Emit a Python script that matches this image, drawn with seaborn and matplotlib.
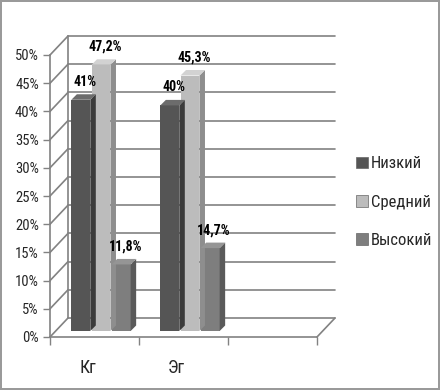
import numpy as np
import pandas as pd
import matplotlib
matplotlib.use("Agg")
import matplotlib.pyplot as plt
import seaborn as sns
from matplotlib.transforms import ScaledTranslation, IdentityTransform
from matplotlib.patches import Polygon, Rectangle
from matplotlib.lines import Line2D

# ---- data ----
slots = ["Кг", "Эг", ""]
categories = ["Кг", "Эг"]
levels = ["Низкий", "Средний", "Высокий"]
low = [41.0, 40.0]
mid = [47.2, 45.3]
high = [11.8, 14.7]
yticks = [0, 5, 10, 15, 20, 25, 30, 35, 40, 45, 50]
ytick_labels = [f"{v}%" for v in yticks]

colors = {"Низкий": "#555555", "Средний": "#bcbcbc", "Высокий": "#7e7e7e"}
side_colors = {"Низкий": "#3b3b3b", "Средний": "#8e8e8e", "Высокий": "#5a5a5a"}
top_colors = {"Низкий": "#6c6c6c", "Средний": "#d2d2d2", "Высокий": "#959595"}

df = pd.DataFrame({
    "cat": categories * 3,
    "level": [levels[0]] * 2 + [levels[1]] * 2 + [levels[2]] * 2,
    "val": low + mid + high,
})

sns.set_theme(style="white")
plt.rcParams["font.family"] = ["Roboto Condensed", "DejaVu Sans"]

DPI = 100
fig = plt.figure(figsize=(4.4, 3.9), dpi=DPI)
fig.patch.set_facecolor("white")
fig.patch.set_edgecolor("#9a9a9a")
fig.patch.set_linewidth(1.5)

ax = fig.add_axes([50 / 440, 1 - 337 / 390, (317 - 50) / 440, (337 - 55) / 390])
ax.set_facecolor("none")

sns.barplot(data=df, x="cat", y="val", hue="level", order=slots, hue_order=levels,
            palette=colors, width=0.68, gap=0.06, legend=False, ax=ax,
            saturation=1, edgecolor="none", linewidth=0)

ax.set_xlim(-0.5, 2.5)
ax.set_ylim(0, 50)
ax.set_xlabel("")
ax.set_ylabel("")

# back wall offset and bar offset (pixels)
BX, BY = 18, 19
bar_shift = ScaledTranslation(6.5 / DPI, 6 / DPI, fig.dpi_scale_trans)
back_shift = ScaledTranslation(BX / DPI, BY / DPI, fig.dpi_scale_trans)
grid_col = "#828282"

# back wall gridlines
for v in yticks:
    ax.plot([-0.5, 2.5], [v, v], color=grid_col, lw=1.2,
            transform=ax.transData + back_shift, zorder=0.5, clip_on=False)
ax.plot([-0.5, -0.5], [0, 50], color=grid_col, lw=1.2,
        transform=ax.transData + back_shift, zorder=0.5, clip_on=False)

# side wall diagonals and floor edge
fig.canvas.draw()
ident = IdentityTransform()
for v in yticks:
    x0, y0 = ax.transData.transform((-0.5, v))
    ax.add_line(Line2D([x0, x0 + BX], [y0, y0 + BY], color=grid_col, lw=1.2,
                       transform=ident, zorder=0.5, clip_on=False))
x0, y0 = ax.transData.transform((2.5, 0))
ax.add_line(Line2D([x0, x0 + BX], [y0, y0 + BY], color=grid_col, lw=1.2,
                   transform=ident, zorder=0.5, clip_on=False))

# bars: shift + 3D faces + labels
D = 5.5
bars = [p for p in ax.patches if np.isfinite(p.get_height()) and p.get_height() > 0]
for p in bars:
    p.set_transform(ax.transData + bar_shift)
    p.set_zorder(2)
    fc = p.get_facecolor()
    key = None
    for k, c in colors.items():
        if np.allclose(matplotlib.colors.to_rgba(c), fc, atol=0.01):
            key = k
    x, w, h = p.get_x(), p.get_width(), p.get_height()
    (xl, yb) = ax.transData.transform((x, 0))
    (xr, yt) = ax.transData.transform((x + w, h))
    xl += 6.5; xr += 6.5; yb += 6; yt += 6
    side = Polygon([(xr, yb), (xr + D, yb + D), (xr + D, yt + D), (xr, yt)],
                   closed=True, facecolor=side_colors[key], edgecolor="none",
                   transform=ident, zorder=2, clip_on=False)
    top = Polygon([(xl, yt), (xr, yt), (xr + D, yt + D), (xl + D, yt + D)],
                  closed=True, facecolor=top_colors[key], edgecolor="none",
                  transform=ident, zorder=2, clip_on=False)
    ax.add_patch(side)
    ax.add_patch(top)
    txt = f"{h:g}".replace(".", ",") + "%"
    ax.text((xl + xr) / 2 + 4, yt + 18, txt, transform=ident, ha="center",
            va="center", fontsize=10, fontweight="bold", color="black", zorder=3)

# axes styling
for s in ["top", "right"]:
    ax.spines[s].set_visible(False)
ax.spines["left"].set_color(grid_col)
ax.spines["bottom"].set_color(grid_col)
ax.spines["left"].set_linewidth(1.2)
ax.spines["bottom"].set_linewidth(1.2)
ax.set_yticks(yticks)
ax.set_yticklabels(ytick_labels, fontsize=10.5)
ax.tick_params(axis="y", length=5, width=1, color=grid_col, pad=3, left=True)
ax.set_xticks([0, 1, 2])
ax.set_xticklabels(slots, fontsize=13)
ax.tick_params(axis="x", length=0, pad=16, bottom=False)
lab_shift = ScaledTranslation(-7 / DPI, 0, fig.dpi_scale_trans)
for lab in ax.get_xticklabels():
    lab.set_transform(lab.get_transform() + lab_shift)
ax.set_xticks([-0.5, 0.5, 1.5, 2.5], minor=True)
ax.tick_params(axis="x", which="minor", length=6, width=1, color=grid_col, bottom=True)

# legend
handles = [Rectangle((0, 0), 1, 1, facecolor=colors[l], edgecolor="#666666", lw=0.5) for l in levels]
fig.legend(handles, levels, loc="center left", bbox_to_anchor=(341 / 440, 1 - 202 / 390),
           frameon=False, fontsize=12, handlelength=0.7, handleheight=0.7,
           handletextpad=0.2, labelspacing=1.4)

fig.savefig("out.png", dpi=DPI, facecolor="white", edgecolor=fig.get_edgecolor())
